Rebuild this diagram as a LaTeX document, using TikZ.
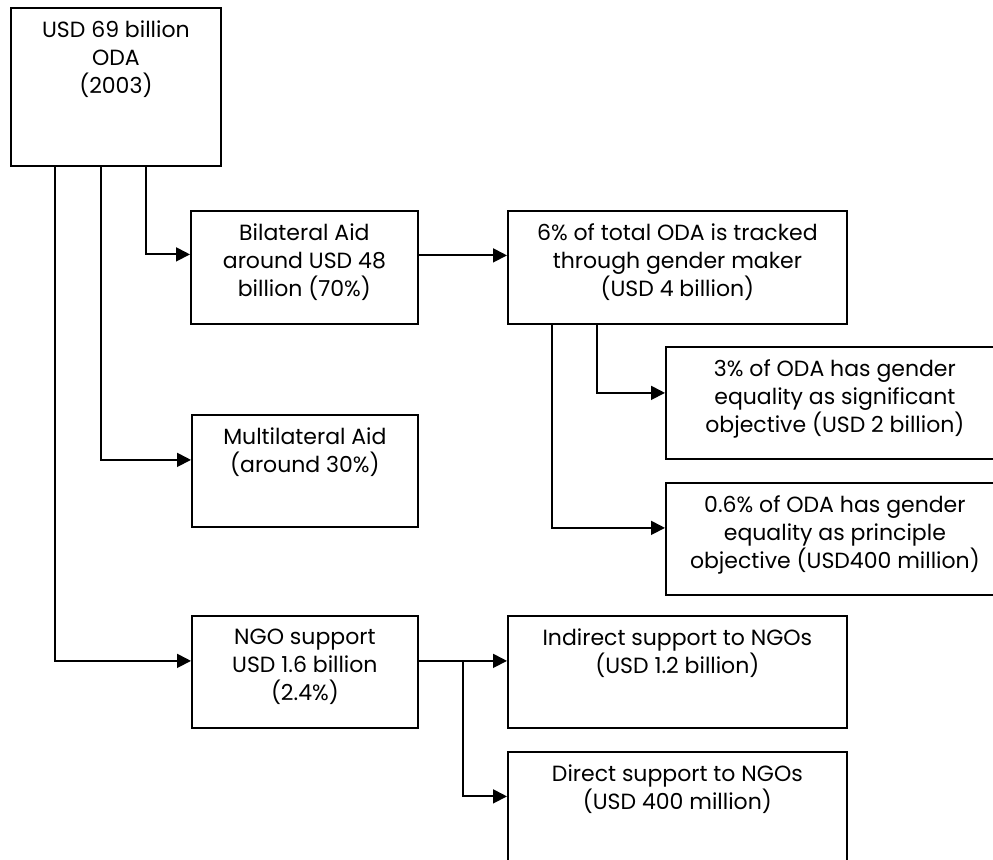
\documentclass[tikz,border=0pt]{standalone}
\usepackage{fontspec}
\setmainfont{Poppins}
\usepackage{tikz}
\usetikzlibrary{arrows.meta,calc}
\newlength{\px}
\setlength{\px}{0.5pt}
\newcommand{\boxtext}[3]{\parbox[c][#2\px][t]{#1\px}{\centering\vspace*{6.5pt}#3}}

\begin{document}
\begin{tikzpicture}[x=0.5pt,y=-0.5pt,->,>={Triangle[length=7pt,width=7pt]},
                    line width=0.9pt]
  \tikzstyle{box}=[draw,-,rectangle,inner sep=0pt,anchor=north west,
                   font=\fontsize{11}{14}\selectfont]

  \useasboundingbox (0,0) rectangle (993,860);
  \clip (0,0) rectangle (993,860);

  \node[box] (oda)   at (10,7)    {\boxtext{210}{158}{USD 69 billion\\ ODA\\ (2003)}};
  \node[box] (bil)   at (190,210) {\boxtext{227}{113}{Bilateral Aid\\ around USD 48\\ billion (70\%)}};
  \node[box] (pct6)  at (507,210) {\boxtext{339}{113}{6\% of total ODA is tracked\\ through gender maker\\ (USD 4 billion)}};
  \node[box] (multi) at (191,414) {\boxtext{226}{112}{Multilateral Aid\\ (around 30\%)}};
  \node[box] (sig)   at (665,346) {\boxtext{338}{112}{3\% of ODA has gender\\ equality as significant\\ objective (USD 2 billion)}};
  \node[box] (princ) at (665,482) {\boxtext{338}{112}{0.6\% of ODA has gender\\ equality as principle\\ objective (USD400 million)}};
  \node[box] (ngo)   at (191,615) {\boxtext{226}{112}{NGO support\\ USD 1.6 billion\\ (2.4\%)}};
  \node[box] (ind)   at (507,615) {\boxtext{339}{112}{Indirect support to NGOs\\ (USD 1.2 billion)}};
  \node[box] (dir)   at (507,751) {\boxtext{339}{113}{Direct support to NGOs\\ (USD 400 million)}};

  \draw ($(oda.south west)+(136,0)$) |- ($(bil.west)+(0,-13)$);
  \draw ($(oda.south west)+(91,0)$) |- ($(multi.west)+(0,-11)$);
  \draw ($(oda.south west)+(45,0)$) |- ($(ngo.west)+(0,-11)$);
  \draw ($(bil.east)+(0,-12)$) -- ($(pct6.west)+(0,-12)$);
  \draw ($(pct6.south west)+(90,0)$) |- ($(sig.west)+(0,-10)$);
  \draw ($(pct6.south west)+(45,0)$) |- ($(princ.west)+(0,-11)$);
  \draw ($(ngo.east)+(0,-11)$) -- ($(ind.west)+(0,-11)$);
  \draw ($(ngo.east)+(44,-11)$) |- ($(dir.west)+(0,-12)$);
\end{tikzpicture}
\end{document}
